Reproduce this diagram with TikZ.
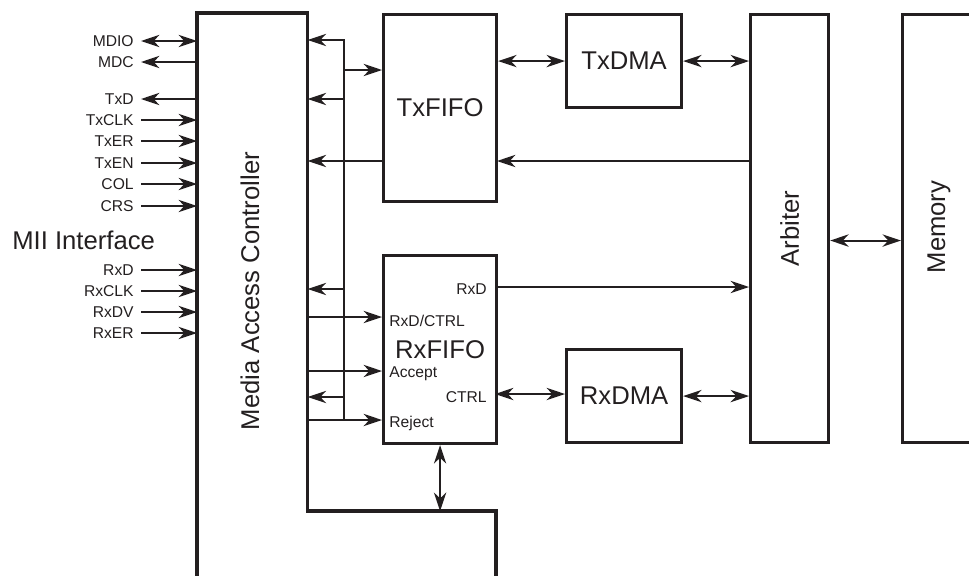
\documentclass[tikz,border=0pt]{standalone}
\usepackage{fontspec}
\setmainfont{Liberation Sans}
\usetikzlibrary{arrows.meta,positioning}
\definecolor{ink}{RGB}{35,31,32}
\newcommand\bigtxt{\fontsize{14.6}{17}\selectfont}
\newcommand\smalltxt{\fontsize{8.9}{10}\selectfont}

\begin{document}
\begin{tikzpicture}[
                    x=0.02cm, y=-0.02cm,
                    >={Stealth[length=10.5pt,width=7pt,inset=3.3pt]},
                    every node/.style={text=ink},
                    box/.style={draw=ink, line width=1.8pt, inner sep=0pt, anchor=north west, font=\bigtxt},
                    sig/.style={draw=ink, line width=1.1pt},
                    pin/.style={inner sep=0pt, font=\smalltxt},
                    pinname/.style={inner xsep=4pt, inner ysep=0pt, font=\smalltxt, anchor=east}
                  ]
  \useasboundingbox (0,0) rectangle (969,575);
  \clip (0,0) rectangle (969,575);

  \node[inner sep=0pt, minimum width=2.2cm, minimum height=11.74cm, anchor=north west] (mac) at (197,13) {};
  \coordinate (macstep) at (496,511);
  \draw[draw=ink, line width=1.8pt] (mac.south west) |- (mac.north east) |- (macstep) -- (496,600);
  \node[rotate=90, font=\bigtxt] (mactxt) at (250,291) {Media Access Controller};

  \node[box, minimum width=2.26cm, minimum height=3.74cm] (txfifo) at (382,13) {TxFIFO};
  \node[box, minimum width=2.26cm, minimum height=3.76cm] (rxfifo) at (382,254) {RxFIFO};
  \node[box, minimum width=2.3cm, minimum height=1.86cm] (txdma) at (565,13) {TxDMA};
  \node[box, minimum width=2.3cm, minimum height=1.86cm] (rxdma) at (565,348) {RxDMA};
  \node[box, minimum width=1.56cm, minimum height=8.56cm] (arbiter) at (749,13) {};
  \node[rotate=90, font=\bigtxt] (arbtxt) at (arbiter.center) {Arbiter};
  \node[box, minimum width=1.6cm, minimum height=8.56cm] (memory) at (901,13) {};
  \node[rotate=90, font=\bigtxt] (memtxt) at (939,227) {Memory};

  % MII side
  \node[font=\bigtxt, inner sep=0pt, anchor=west] (mii) at (12,240) {MII Interface};
  \node[pinname] (pin-MDIO) at (141,41) {MDIO};
  \node[pinname] (pin-MDC) at (141,62) {MDC};
  \node[pinname] (pin-TxD) at (141,99) {TxD};
  \draw[sig,<->] (pin-MDIO.east) -- (mac.west |- pin-MDIO.east);
  \draw[sig,<-] (pin-MDC.east) -- (mac.west |- pin-MDC.east);
  \draw[sig,<-] (pin-TxD.east) -- (mac.west |- pin-TxD.east);
  \foreach \sname/\y in {TxCLK/120, TxER/141, TxEN/163, COL/184, CRS/206,
                         RxD/270, RxCLK/291, RxDV/312, RxER/333}
  {
    \node[pinname] (pin-\sname) at (141,\y) {\sname};
    \draw[sig,->] (pin-\sname.east) -- (mac.west |- pin-\sname.east);
  }

  % bus between MAC and FIFOs
  \coordinate (bustop) at (344,40);
  \coordinate (busbot) at (344,420);
  \draw[sig,->] (busbot) -- (bustop) -- (mac.east |- bustop);
  \coordinate (tap1) at (344,70);
  \draw[sig,->] (tap1) -- (tap1 -| txfifo.west);
  \foreach \y in {99,289,397}
  {
    \coordinate (tap) at (344,\y);
    \draw[sig,->] (tap) -- (mac.east |- tap);
  }
  \coordinate (txret) at (497,161);
  \draw[sig,->] (arbiter.west |- txret) -- (txret);
  \draw[sig,->] (txfifo.west |- txret) -- (mac.east |- txret);

  % RxFIFO ports
  \coordinate (rxin) at (382,317);
  \coordinate (accept) at (382,371);
  \coordinate (reject) at (382,420);
  \coordinate (rxout) at (495,287);
  \coordinate (ctrl) at (495,394);
  \node[pin, anchor=west] (lrxin) at ([xshift=0.14cm, yshift=-0.08cm]rxin) {RxD/CTRL};
  \node[pin, anchor=west] (laccept) at ([xshift=0.14cm, yshift=-0.06cm]accept) {Accept};
  \node[pin, anchor=west] (lreject) at ([xshift=0.14cm, yshift=-0.06cm]reject) {Reject};
  \node[pin, anchor=east] (lrxout) at ([xshift=-0.16cm, yshift=-0.05cm]rxout) {RxD};
  \node[pin, anchor=east] (lctrl) at ([xshift=-0.16cm, yshift=-0.06cm]ctrl) {CTRL};
  \draw[sig,->] (mac.east |- rxin) -- (rxin);
  \draw[sig,->] (mac.east |- accept) -- (accept);
  \draw[sig,->] (mac.east |- reject) -- (reject);
  \draw[sig,->] (rxout) -- (rxout -| arbiter.west);
  \draw[sig,<->] (ctrl) -- (ctrl -| rxdma.west);
  \draw[sig,<->] (rxfifo.south) -- (rxfifo.south |- macstep);

  % DMA and memory side
  \draw[sig,<->] (txfifo.east |- txdma.west) -- (txdma.west);
  \draw[sig,<->] (txdma.east) -- (txdma.east -| arbiter.west);
  \draw[sig,<->] (rxdma.east) -- (rxdma.east -| arbiter.west);
  \draw[sig,<->] ([yshift=-0.24cm]arbiter.east) -- ([yshift=-0.24cm]arbiter.east -| memory.west);
\end{tikzpicture}
\end{document}
